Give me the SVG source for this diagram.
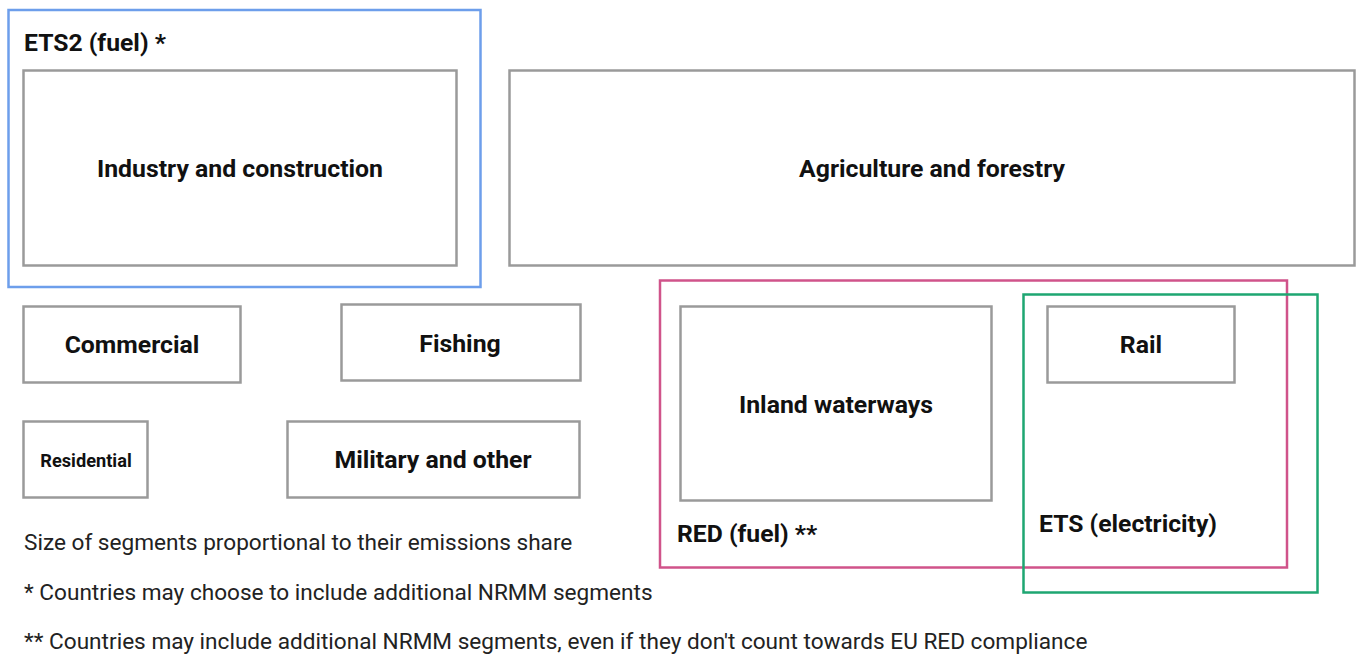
<svg xmlns="http://www.w3.org/2000/svg" width="1362" height="657" viewBox="0 0 1362 657">
<style>
.seg{fill:#fff;stroke:#9a9a9a;stroke-width:2.5}
.lbl{font-family:Roboto,"Liberation Sans",sans-serif;font-weight:bold;font-size:24.8px;fill:#111;text-anchor:middle}
.grp{font-family:Roboto,"Liberation Sans",sans-serif;font-weight:bold;font-size:24.7px;fill:#111}
.note{font-family:Roboto,"Liberation Sans",sans-serif;font-size:22.6px;fill:#222}
.frame{fill:none;stroke-width:2.5}
</style>
<rect width="1362" height="657" fill="#fff"/>
<g id="ets2">
<rect class="frame" x="8.5" y="10" width="472" height="277" stroke="#6d9eeb"/>
<text class="grp" x="24" y="51">ETS2 (fuel) *</text>
</g>
<g id="industry">
<rect class="seg" x="23.5" y="70.5" width="433" height="195"/>
<text class="lbl" x="240" y="177">Industry and construction</text>
</g>
<g id="agriculture">
<rect class="seg" x="509.5" y="70.5" width="845" height="195"/>
<text class="lbl" x="932" y="177">Agriculture and forestry</text>
</g>
<g id="commercial">
<rect class="seg" x="23.5" y="306.5" width="217" height="76"/>
<text class="lbl" x="132" y="353">Commercial</text>
</g>
<g id="fishing">
<rect class="seg" x="341.5" y="304.5" width="239" height="76"/>
<text class="lbl" x="460" y="352">Fishing</text>
</g>
<g id="residential">
<rect class="seg" x="23.5" y="421.5" width="124" height="76"/>
<text class="lbl" x="86" y="466.5" style="font-size:18.2px">Residential</text>
</g>
<g id="military">
<rect class="seg" x="287.5" y="421.5" width="292" height="76"/>
<text class="lbl" x="433" y="468">Military and other</text>
</g>
<g id="red">
<rect class="frame" x="660" y="280.5" width="627" height="287" stroke="#d0538a"/>
<text class="grp" x="677" y="542">RED (fuel) **</text>
</g>
<g id="inland">
<rect class="seg" x="680.5" y="306.5" width="311" height="194"/>
<text class="lbl" x="836" y="413">Inland waterways</text>
</g>
<g id="ets">
<rect class="frame" x="1023.5" y="294.5" width="294" height="298" stroke="#1ea672"/>
<text class="grp" x="1039" y="532">ETS (electricity)</text>
</g>
<g id="rail">
<rect class="seg" x="1047.5" y="306.5" width="187" height="76"/>
<text class="lbl" x="1141" y="353">Rail</text>
</g>
<g id="notes">
<text class="note" x="24" y="550">Size of segments proportional to their emissions share</text>
<text class="note" x="24" y="600">* Countries may choose to include additional NRMM segments</text>
<text class="note" x="24" y="649">** Countries may include additional NRMM segments, even if they don't count towards EU RED compliance</text>
</g>
<g id="connectors"/>
</svg>
